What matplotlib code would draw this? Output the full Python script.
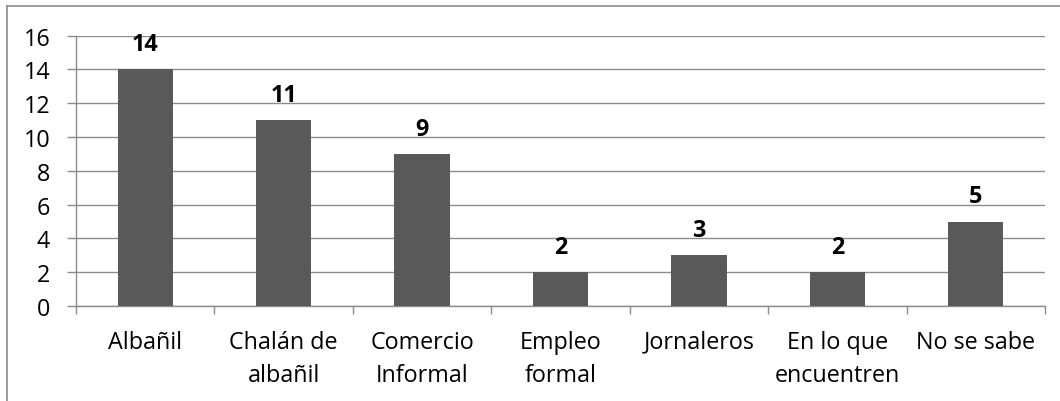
import matplotlib
matplotlib.use("Agg")
import matplotlib.pyplot as plt
from matplotlib.lines import Line2D
import numpy as np

categories = ["Albañil", "Chalán de\nalbañil", "Comercio\nInformal", "Empleo\nformal",
              "Jornaleros", "En lo que\nencuentren", "No se sabe"]
values = [14, 11, 9, 2, 3, 2, 5]
yticks = [0, 2, 4, 6, 8, 10, 12, 14, 16]

plt.rcParams['font.family'] = ['Open Sans', 'DejaVu Sans']

W, H = 1060, 402
fig = plt.figure(figsize=(W / 100, H / 100), dpi=100)
ax = fig.add_axes([76 / W, 1 - 307 / H, (1045 - 76) / W, (307 - 36.7) / H])

grid_c = "#8c8c8c"
fs = 16.8
x = np.arange(len(categories))
ax.bar(x, values, width=0.4, color="#595959", zorder=3)
ax.set_xlim(-0.5, len(categories) - 0.5)
ax.set_ylim(0, 16)
ax.set_yticks(yticks)
ax.set_yticklabels([str(t) for t in yticks], fontsize=fs, color="black")
ax.yaxis.grid(True, color=grid_c, linewidth=1.0, zorder=0)

ax.set_xticks(np.arange(-0.5, len(categories), 1.0))
ax.set_xticklabels([])
ax.set_xticks(x, minor=True)
ax.set_xticklabels(categories, minor=True, fontsize=fs, linespacing=1.5)
ax.tick_params(axis='x', which='minor', length=0, pad=17)
ax.tick_params(axis='x', which='major', length=6, width=1.0, color=grid_c, direction='out')
ax.tick_params(axis='y', length=6.5, width=1.0, color=grid_c, pad=12)

for s in ["top", "right"]:
    ax.spines[s].set_visible(False)
for s in ["left", "bottom"]:
    ax.spines[s].set_color(grid_c)
    ax.spines[s].set_linewidth(1.0)

for xi, v in zip(x, values):
    ax.annotate(str(v), (xi, v), xytext=(0, 9.5), textcoords="offset points",
                ha="center", va="bottom", fontsize=fs, fontweight="bold")

# outer chart frame (partly cropped)
fig.add_artist(Line2D([6.5 / W, 1], [1 - 6.5 / H, 1 - 6.5 / H], color="#8c8c8c", lw=1.2,
                      transform=fig.transFigure))
fig.add_artist(Line2D([6.5 / W, 6.5 / W], [0, 1 - 6.5 / H], color="#8c8c8c", lw=1.2,
                      transform=fig.transFigure))

fig.savefig("out.png", dpi=100)
